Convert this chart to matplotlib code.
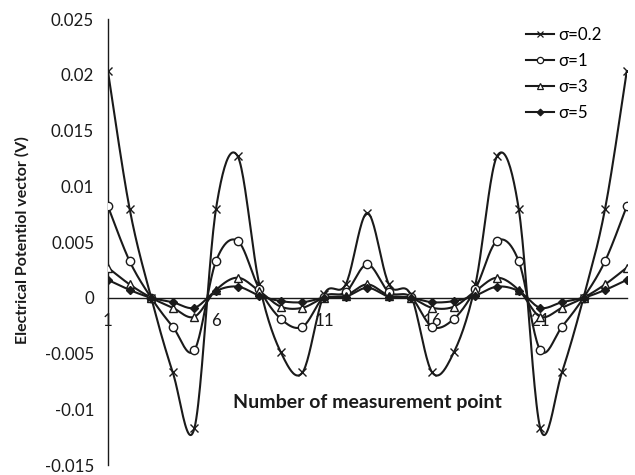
import numpy as np
import matplotlib
matplotlib.use("Agg")
import matplotlib.pyplot as plt
from matplotlib.lines import Line2D

points = list(range(1, 26))
sigma_02 = [0.0203, 0.0080, 0.0, -0.0067, -0.0117, 0.0080, 0.0127, 0.0012, -0.0049, -0.0067,
            0.0003, 0.0012, 0.0076, 0.0012, 0.0003, -0.0067, -0.0049, 0.0012, 0.0127, 0.0080,
            -0.0117, -0.0067, 0.0, 0.0080, 0.0203]
sigma_1 = [0.0082, 0.0033, 0.0, -0.0026, -0.0047, 0.0033, 0.0051, 0.0008, -0.0019, -0.0026,
           0.0001, 0.0005, 0.0030, 0.0005, 0.0001, -0.0026, -0.0019, 0.0008, 0.0051, 0.0033,
           -0.0047, -0.0026, 0.0, 0.0033, 0.0082]
sigma_3 = [0.0027, 0.0012, 0.0, -0.0009, -0.0017, 0.0007, 0.0018, 0.0006, -0.0008, -0.0009,
           0.0, 0.0002, 0.0012, 0.0002, 0.0, -0.0009, -0.0008, 0.0006, 0.0018, 0.0007,
           -0.0017, -0.0009, 0.0, 0.0012, 0.0027]
sigma_5 = [0.0016, 0.0007, 0.0, -0.0004, -0.0009, 0.0006, 0.0010, 0.0002, -0.0003, -0.0004,
           0.0, 0.0001, 0.0009, 0.0001, 0.0, -0.0004, -0.0003, 0.0002, 0.0010, 0.0006,
           -0.0009, -0.0004, 0.0, 0.0007, 0.0016]
labels = ["σ=0.2", "σ=1", "σ=3", "σ=5"]
xticks = [1, 6, 11, 16, 21]

INK = "#1a1a1a"
FONT = "Lato"


def smooth(x, y, steps=24):
    # Excel-style smoothed line (Catmull-Rom as cubic Bezier)
    x = np.asarray(x, float)
    y = np.asarray(y, float)
    px = np.concatenate([[x[0]], x, [x[-1]]])
    py = np.concatenate([[y[0]], y, [y[-1]]])
    t = np.linspace(0, 1, steps)
    xs, ys = [], []
    for i in range(1, len(px) - 2):
        p0 = np.array([px[i], py[i]])
        p3 = np.array([px[i + 1], py[i + 1]])
        p1 = p0 + (p3 - np.array([px[i - 1], py[i - 1]])) / 6
        p2 = p3 - (np.array([px[i + 2], py[i + 2]]) - p0) / 6
        b = ((1 - t) ** 3)[:, None] * p0 + (3 * (1 - t) ** 2 * t)[:, None] * p1 \
            + (3 * (1 - t) * t ** 2)[:, None] * p2 + (t ** 3)[:, None] * p3
        xs.extend(b[:, 0])
        ys.extend(b[:, 1])
    return np.array(xs), np.array(ys)


fig = plt.figure(figsize=(6.35, 4.75), dpi=100)
ax = fig.add_axes([0.170, 0.021, 0.817, 0.939])

series = [sigma_02, sigma_1, sigma_3, sigma_5]
shapes = [("x", INK, 6), ("o", "white", 6), ("^", "white", 6), ("D", INK, 4.5)]
handles = []
for vals, (m, fc, ms), lab in zip(series, shapes, labels):
    sx, sy = smooth(points, vals)
    ax.plot(sx, sy, color=INK, linewidth=1.5, zorder=2)
    ax.plot(points, vals, linestyle="none", marker=m, markersize=ms, markerfacecolor=fc,
            markeredgecolor=INK, markeredgewidth=1.0, zorder=3)
    handles.append(Line2D([0], [0], color=INK, linewidth=1.5, marker=m, markersize=ms * 0.75,
                          markerfacecolor=fc, markeredgecolor=INK, markeredgewidth=0.9))

ax.set_xlim(1, 25)
ax.set_ylim(-0.015, 0.025)
ax.set_yticks(np.arange(-0.015, 0.0251, 0.005))
ax.set_yticklabels(["-0.015", "-0.01", "-0.005", "0", "0.005", "0.01", "0.015", "0.02", "0.025"])
ax.set_xticks(xticks)
ax.set_xticklabels([str(v) for v in xticks])

ax.spines["top"].set_visible(False)
ax.spines["right"].set_visible(False)
ax.spines["bottom"].set_position(("data", 0))
for s in ("left", "bottom"):
    ax.spines[s].set_color(INK)
    ax.spines[s].set_linewidth(1.0)
ax.tick_params(axis="y", length=0, pad=10, labelsize=12.2, labelcolor=INK)
ax.tick_params(axis="x", length=0, pad=11, labelsize=12.2, labelcolor=INK)
for lbl in ax.get_xticklabels() + ax.get_yticklabels():
    lbl.set_fontfamily(FONT)

fig.text(0.035, 0.495, "Electrical Potentiol vector (V)", rotation=90, ha="center", va="center",
         fontsize=11.5, fontweight="bold", family=FONT, color=INK)
ax.text(13, -0.0094, "Number of measurement point", ha="center", va="center",
        fontsize=14, fontweight="bold", family=FONT, color=INK)

fig.legend(handles, labels, loc="upper left", bbox_to_anchor=(0.829, 0.943), frameon=False,
           borderpad=0, borderaxespad=0, prop={"family": FONT, "size": 12.2},
           handlelength=1.6, handletextpad=0.3, labelspacing=0.58)

fig.savefig("out.png", dpi=100)
